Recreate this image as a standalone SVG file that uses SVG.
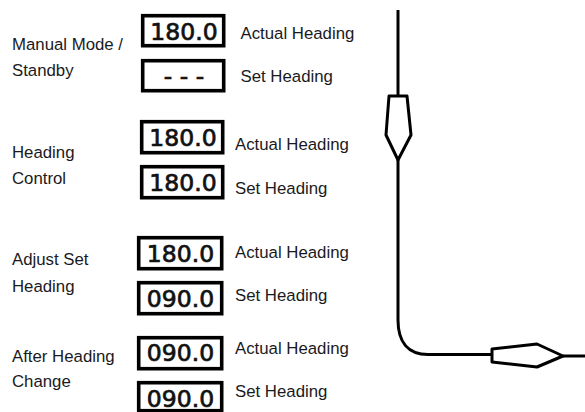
<svg xmlns="http://www.w3.org/2000/svg" width="585" height="412" viewBox="0 0 585 412">
<style>
.box{fill:#fff;stroke:#000;stroke-width:3.6}
.val{font-family:"DejaVu Sans",sans-serif;font-size:23.5px;fill:#111;text-anchor:middle;stroke:#111;stroke-width:.7}
.lab{font-family:"Liberation Sans",Arial,sans-serif;font-size:16.8px;fill:#1a1a22}
.wire{fill:none;stroke:#000;stroke-width:3;stroke-linejoin:round}
</style>
<rect width="585" height="412" fill="#fff"/>
<g id="mode-manual">
<text class="lab" x="12" y="50">Manual Mode /</text><text class="lab" x="12" y="76">Standby</text>
<rect class="box" x="142.7" y="15.7" width="81" height="30"/><text class="val" x="184" y="40">180.0</text>
<text class="lab" x="240.500" y="38.500">Actual Heading</text>
<rect class="box" x="142.7" y="60.700" width="81" height="30"/><text class="val" x="184" y="84">- - -</text>
<text class="lab" x="240.500" y="82">Set Heading</text>
</g>
<g id="mode-heading-control">
<text class="lab" x="12" y="158">Heading</text><text class="lab" x="12" y="184">Control</text>
<rect class="box" x="141.7" y="121.700" width="81" height="31"/><text class="val" x="183" y="146">180.0</text>
<text class="lab" x="235" y="150">Actual Heading</text>
<rect class="box" x="141.7" y="166.700" width="81" height="31"/><text class="val" x="183" y="191">180.0</text>
<text class="lab" x="235" y="194">Set Heading</text>
</g>
<g id="mode-adjust">
<text class="lab" x="12" y="265">Adjust Set</text><text class="lab" x="12" y="292">Heading</text>
<rect class="box" x="138.7" y="237.700" width="83" height="31"/><text class="val" x="180.500" y="262">180.0</text>
<text class="lab" x="235" y="258">Actual Heading</text>
<rect class="box" x="138.7" y="282.700" width="83" height="31"/><text class="val" x="180.500" y="307">090.0</text>
<text class="lab" x="235" y="301">Set Heading</text>
</g>
<g id="mode-after">
<text class="lab" x="12" y="362">After Heading</text><text class="lab" x="12" y="387">Change</text>
<rect class="box" x="138.7" y="337.700" width="83" height="31"/><text class="val" x="180.500" y="361">090.0</text>
<text class="lab" x="235" y="354">Actual Heading</text>
<rect class="box" x="138.7" y="382.700" width="83" height="28"/><text class="val" x="180.500" y="406.500">090.0</text>
<text class="lab" x="235" y="397">Set Heading</text>
</g>
<g id="connectors">
<path class="wire" d="M398 10V96"/>
<path class="wire" d="M398 160V320C398 342 408 354.500 428 354.500H492"/>
<path class="wire" d="M563 356H585"/>
<path class="wire" d="M389 96H407L411 135L398 160L386 135Z"/>
<path class="wire" d="M492 349L537 344L563 356L537 367L492 362Z"/>
</g>
</svg>
